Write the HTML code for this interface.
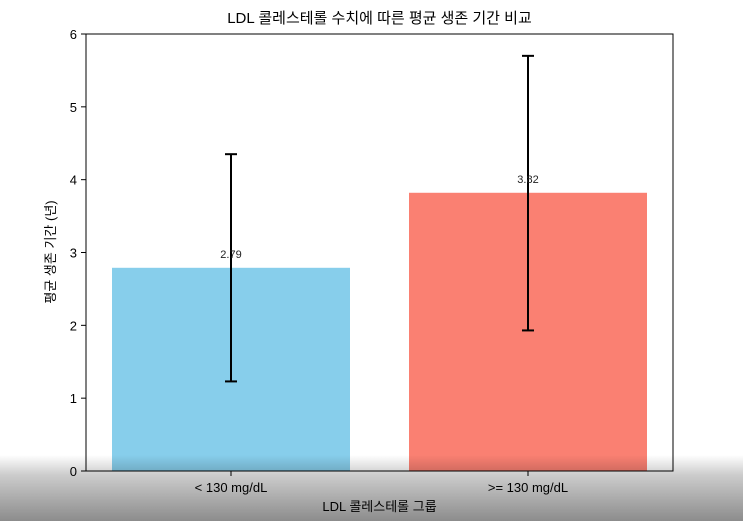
<!DOCTYPE html>
<html><head><meta charset="utf-8"><style>
body{margin:0;width:743px;height:521px;overflow:hidden;background:#fff;font-family:"Liberation Sans","Noto Sans CJK KR",sans-serif;}
#wrap{position:relative;width:743px;height:521px;}
#shade{position:absolute;left:0;top:455px;width:743px;height:66px;background:linear-gradient(to bottom,rgba(0,0,0,0),rgba(0,0,0,0.2) 30%,rgba(0,0,0,0.45));pointer-events:none;}
</style></head><body>
<div id="wrap">
<svg id="chart" width="743" height="521"></svg>
<div id="shade"></div>
</div>
<script>
const categories = ["< 130 mg/dL", ">= 130 mg/dL"];
const means = [2.79, 3.82];
const errLow = [1.23, 1.93];
const errHigh = [4.35, 5.70];
const colors = ["#87ceeb", "#fa8072"];
const yTicks = [0,1,2,3,4,5,6];

const NS="http://www.w3.org/2000/svg";
const svg=document.getElementById('chart');
const L=86,R=673,T=34,B=471,yMax=6;
const y=v=>B-(v/yMax)*(B-T);
const slot=(R-L)/categories.length;
const bw=238;
const xc=i=>L+slot*(i+0.5)-0.25*0;
function mk(tag,attrs,text){const e=document.createElementNS(NS,tag);for(const k in attrs)e.setAttribute(k,attrs[k]);if(text!==undefined)e.textContent=text;svg.appendChild(e);return e;}

mk('text',{x:(L+R)/2,y:23,'text-anchor':'middle','font-size':15,fill:'#000',},'LDL 콜레스테롤 수치에 따른 평균 생존 기간 비교');

categories.forEach((c,i)=>{
  const cx=L+26+bw/2+i*(297);
  const b=mk('rect',{x:cx-bw/2,y:y(means[i]),width:bw,height:B-y(means[i]),fill:colors[i]});
  
  
  const g=document.createElementNS(NS,'g');
  
  
  svg.appendChild(g);
  [[cx,y(errLow[i]),cx,y(errHigh[i])],[cx-6,y(errLow[i]),cx+6,y(errLow[i])],[cx-6,y(errHigh[i]),cx+6,y(errHigh[i])]].forEach(p=>{
    const l=document.createElementNS(NS,'line');
    l.setAttribute('x1',p[0]);l.setAttribute('y1',p[1]);l.setAttribute('x2',p[2]);l.setAttribute('y2',p[3]);
    l.setAttribute('stroke','#000');l.setAttribute('stroke-width',2);g.appendChild(l);
  });
  const t=mk('text',{x:cx,y:y(means[i])-10,'text-anchor':'middle','font-size':11,fill:'#222'},means[i].toFixed(2));
  
  
  mk('line',{x1:cx,y1:B,x2:cx,y2:B+5,stroke:'#000'});
  const xl=mk('text',{x:cx,y:B+21,'text-anchor':'middle','font-size':13,fill:'#000'},c);
  
  
});

yTicks.forEach(v=>{
  mk('line',{x1:L-5,y1:y(v),x2:L,y2:y(v),stroke:'#000'});
  const t=mk('text',{x:L-9,y:y(v)+5,'text-anchor':'end','font-size':13,fill:'#000'},v);
  
  
});

mk('rect',{x:L,y:T,width:R-L,height:B-T,fill:'none',stroke:'#000','stroke-width':1,});
mk('text',{x:(L+R)/2,y:511,'text-anchor':'middle','font-size':13,fill:'#000',},'LDL 콜레스테롤 그룹');
mk('text',{x:0,y:0,transform:'translate(55,252) rotate(-90)','text-anchor':'middle','font-size':13,fill:'#000',},'평균 생존 기간 (년)');
</script>
</body></html>
